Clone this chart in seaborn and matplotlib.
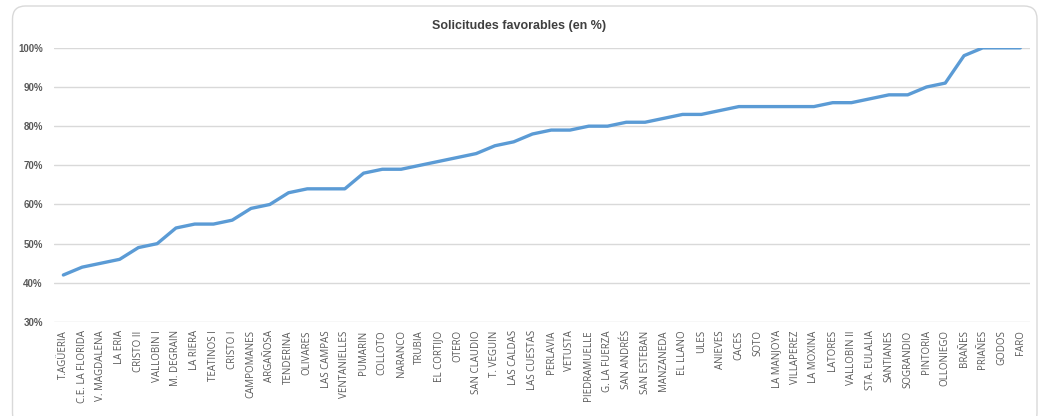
import matplotlib
matplotlib.use("Agg")
import matplotlib.pyplot as plt
import seaborn as sns
import pandas as pd
from matplotlib.patches import FancyBboxPatch
from matplotlib.ticker import PercentFormatter

sns.set_theme(style="white")
plt.rcParams['font.family'] = ['Liberation Sans', 'DejaVu Sans']

centros = [
    "T.AGÜERIA", "C.E. LA FLORIDA", "V. MAGDALENA", "LA ERIA", "CRISTO II",
    "VALLOBIN I", "M. DEGRAIN", "LA RIERA", "TEATINOS I", "CRISTO I",
    "CAMPOMANES", "ARGAÑOSA", "TENDERINA", "OLIVARES", "LAS CAMPAS",
    "VENTANIELLES", "PUMARIN", "COLLOTO", "NARANCO", "TRUBIA",
    "EL CORTIJO", "OTERO", "SAN CLAUDIO", "T. VEGUIN", "LAS CALDAS",
    "LAS CUESTAS", "PERLAVIA", "VETUSTA", "PIEDRAMUELLE", "G. LA FUERZA",
    "SAN ANDRÉS", "SAN ESTEBAN", "MANZANEDA", "EL LLANO", "ULES",
    "ANIEVES", "CACES", "SOTO", "LA MANJOYA", "VILLAPEREZ",
    "LA MOXINA", "LATORES", "VALLOBIN II", "STA. EULALIA", "SANTIANES",
    "SOGRANDIO", "PINTORIA", "OLLONIEGO", "BRAÑES", "PRIAÑES",
    "GODOS", "FARO",
]
favorables = [
    42, 44, 45, 46, 49, 50, 54, 55, 55, 56,
    59, 60, 63, 64, 64, 64, 68, 69, 69, 70,
    71, 72, 73, 75, 76, 78, 79, 79, 80, 80,
    81, 81, 82, 83, 83, 84, 85, 85, 85, 85,
    85, 86, 86, 87, 88, 88, 90, 91, 98, 100,
    100, 100,
]

df = pd.DataFrame({"centro": centros, "pct": favorables})
df["pos"] = range(len(df))

fig = plt.figure(figsize=(10.38, 4.16), dpi=100)

# chart area frame (Excel-like border, bottom edge runs off the image)
frame = FancyBboxPatch((0.125, -0.1), 10.245, 4.2, boxstyle="round,pad=0,rounding_size=0.13",
                       transform=fig.dpi_scale_trans, facecolor="none", edgecolor="#d9d9d9",
                       linewidth=1.0)
fig.patches.append(frame)

ax = fig.add_axes([0.052, 0.226, 0.940, 0.659])
ax.set_facecolor("none")

sns.lineplot(data=df, x="pos", y="pct", ax=ax, color="#5b9bd5", linewidth=2.4,
             solid_capstyle="round", solid_joinstyle="round")

ax.set_xlim(-0.5, len(df) - 0.5)
ax.set_ylim(30, 100)
ax.set_yticks(range(30, 101, 10))
ax.yaxis.set_major_formatter(PercentFormatter(decimals=0))
ax.grid(axis="y", color="#d9d9d9", linewidth=1.0)
ax.set_axisbelow(True)
for s in ax.spines.values():
    s.set_visible(False)

ax.set_xticks(df["pos"])
ax.set_xticklabels(df["centro"], rotation=90, fontsize=7, color="#595959",
                   family=["Open Sans", "DejaVu Sans"])
ax.tick_params(axis="x", length=0, pad=6)
ax.tick_params(axis="y", length=0, pad=8)
for lab in ax.get_yticklabels():
    lab.set_fontsize(7)
    lab.set_fontweight("bold")
    lab.set_color("#595959")

ax.set_xlabel("")
ax.set_ylabel("")
fig.text(0.5, 0.937, "Solicitudes favorables (en %)", ha="center", va="center",
         fontsize=9, fontweight="bold", color="#404040")

fig.savefig("out.png", dpi=100)
